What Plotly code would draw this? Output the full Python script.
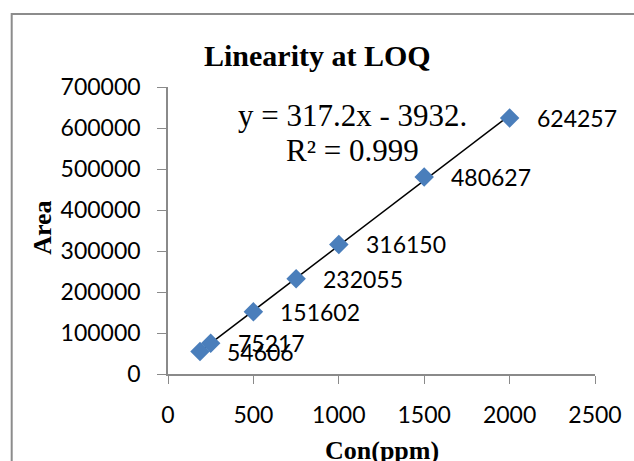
import numpy as np
import plotly.graph_objects as go

conc = [187.5, 250, 500, 750, 1000, 1500, 2000]
area = [54606, 75217, 151602, 232055, 316150, 480627, 624257]
labels = [str(v) for v in area]
x_ticks = [0, 500, 1000, 1500, 2000, 2500]
y_ticks = [0, 100000, 200000, 300000, 400000, 500000, 600000, 700000]

slope, intercept = np.polyfit(conc, area, 1)
fit_x = [min(conc), max(conc)]
fit_y = [slope * v + intercept for v in fit_x]

L, R, T, B = 168, 33, 87, 87
W, H = 634, 461
pw, ph = W - L - R, H - T - B

def px(xp):
    return (xp - L) / pw

def py(yp):
    return (H - B - yp) / ph

fig = go.Figure()
fig.add_trace(go.Scatter(x=fit_x, y=fit_y, mode="lines",
                         line=dict(color="black", width=1.5), showlegend=False,
                         hoverinfo="skip"))
fig.add_trace(go.Scatter(x=conc, y=area, mode="markers",
                         marker=dict(symbol="diamond", size=15, color="#4A7EBB"),
                         showlegend=False))

tick_font = dict(family="Lato", size=23, color="black")
label_anns = [dict(text=t, x=xv, y=yv, xref="x", yref="y", xanchor="left",
                   yanchor="middle", xshift=25, showarrow=False,
                   font=dict(family="Lato", size=23, color="black"))
              for xv, yv, t in zip(conc, area, labels)]

fig.update_layout(
    width=W, height=H,
    margin=dict(l=L, r=R, t=T, b=B),
    paper_bgcolor="white", plot_bgcolor="white",
    xaxis=dict(range=[0, 2500], tickvals=x_ticks, showgrid=False, zeroline=False,
               showline=True, linecolor="#8a8a8a", linewidth=1.5,
               ticks="outside", tickcolor="#8a8a8a", ticklen=8,
               ticklabelstandoff=12, tickformat="d", tickfont=tick_font),
    yaxis=dict(range=[0, 700000], tickvals=y_ticks, showgrid=False, zeroline=False,
               showline=True, linecolor="#8a8a8a", linewidth=1.5,
               ticks="outside", tickcolor="#8a8a8a", ticklen=9,
               ticklabelstandoff=12, tickformat="d", tickfont=tick_font),
    shapes=[dict(type="rect", xref="paper", yref="paper",
                 x0=px(9.5), x1=px(700), y0=py(520), y1=py(14),
                 line=dict(color="#8c8c8c", width=2))],
    annotations=label_anns + [
        dict(text="<b>Linearity at LOQ</b>", xref="paper", yref="paper",
             x=px(320), y=py(55), xanchor="center", yanchor="middle",
             showarrow=False, font=dict(family="Liberation Serif", size=30, color="black")),
        dict(text="y = 317.2x - 3932.", xref="paper", yref="paper",
             x=px(355), y=py(115), xanchor="center", yanchor="middle",
             showarrow=False, font=dict(family="Liberation Serif", size=31, color="black")),
        dict(text="R² = 0.999", xref="paper", yref="paper",
             x=px(355), y=py(150), xanchor="center", yanchor="middle",
             showarrow=False, font=dict(family="Liberation Serif", size=31, color="black")),
        dict(text="<b>Area</b>", xref="paper", yref="paper",
             x=px(40), y=py(228), xanchor="center", yanchor="middle", textangle=-90,
             showarrow=False, font=dict(family="Liberation Serif", size=26, color="black")),
        dict(text="<b>Con(ppm)</b>", xref="paper", yref="paper",
             x=px(385), y=py(450), xanchor="center", yanchor="middle",
             showarrow=False, font=dict(family="Liberation Serif", size=26, color="black")),
    ],
)

fig.write_html("out.html")
